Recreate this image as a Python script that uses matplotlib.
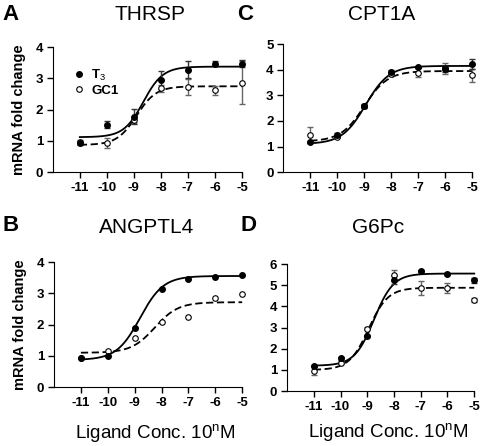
import numpy as np
import matplotlib
matplotlib.use('Agg')
import matplotlib.pyplot as plt

plt.rcParams['font.family'] = ['Liberation Sans', 'DejaVu Sans']
plt.rcParams['mathtext.fontset'] = 'custom'
plt.rcParams['mathtext.rm'] = 'Liberation Sans'
plt.rcParams['axes.unicode_minus'] = False

# log concentration (10^n M)
conc = [-11, -10, -9, -8, -7, -6, -5]

# THRSP
thrsp_t3 = [0.92, 1.52, 1.78, 2.95, 3.28, 3.48, 3.48]
thrsp_t3_err = [0.05, 0.12, 0.25, 0.3, 0.28, 0.08, 0.1]
thrsp_gc1 = [0.97, 0.93, 1.68, 2.68, 2.72, 2.62, 2.87]
thrsp_gc1_err = [0.05, 0.15, 0.1, 0.12, 0.25, 0.14, 0.7]
thrsp_fit_t3 = (1.12, 3.38, -8.65, 1.2)   # bottom, top, logEC50, hill
thrsp_fit_gc1 = (0.87, 2.75, -8.9, 1.2)

# CPT1A
cpt1a_t3 = [1.18, 1.45, 2.6, 3.9, 4.1, 4.02, 4.22]
cpt1a_t3_err = [0.05, 0.06, 0.08, 0.1, 0.05, 0.1, 0.2]
cpt1a_gc1 = [1.45, 1.38, 2.58, 3.82, 3.89, 4.05, 3.78]
cpt1a_gc1_err = [0.3, 0.05, 0.06, 0.08, 0.17, 0.2, 0.25]
cpt1a_fit_t3 = (1.1, 4.15, -8.95, 1.0)
cpt1a_fit_gc1 = (1.2, 3.95, -9.0, 1.0)

# ANGPTL4
angptl4_t3 = [0.92, 1.0, 1.9, 3.15, 3.45, 3.53, 3.58]
angptl4_gc1 = [0.92, 1.17, 1.58, 2.1, 2.25, 2.85, 2.97]
angptl4_fit_t3 = (0.87, 3.56, -8.8, 1.0)
angptl4_fit_gc1 = (1.1, 2.72, -8.25, 1.0)

# G6Pc
g6pc_t3 = [1.2, 1.55, 2.6, 5.24, 5.67, 5.53, 5.24]
g6pc_t3_err = [0.05, 0.08, 0.05, 0.2, 0.05, 0.05, 0.12]
g6pc_gc1 = [0.95, 1.35, 2.95, 5.48, 4.85, 4.87, 4.3]
g6pc_gc1_err = [0.2, 0.08, 0.08, 0.25, 0.33, 0.25, 0.1]
g6pc_fit_t3 = (1.2, 5.55, -8.75, 1.2)
g6pc_fit_gc1 = (1.0, 4.88, -8.95, 1.2)


def sigmoid(x, p):
    bottom, top, ec50, hill = p
    return bottom + (top - bottom) / (1 + 10 ** ((ec50 - x) * hill))


fig = plt.figure(figsize=(4.8, 4.46), dpi=100)

panels = [
    ('A', 'THRSP', [0.110, 0.614, 0.394, 0.280], 4, thrsp_t3, thrsp_t3_err, thrsp_gc1, thrsp_gc1_err, thrsp_fit_t3, thrsp_fit_gc1),
    ('C', 'CPT1A', [0.590, 0.614, 0.394, 0.287], 5, cpt1a_t3, cpt1a_t3_err, cpt1a_gc1, cpt1a_gc1_err, cpt1a_fit_t3, cpt1a_fit_gc1),
    ('B', 'ANGPTL4', [0.1125, 0.132, 0.392, 0.280], 4, angptl4_t3, None, angptl4_gc1, None, angptl4_fit_t3, angptl4_fit_gc1),
    ('D', 'G6Pc', [0.598, 0.123, 0.390, 0.285], 6, g6pc_t3, g6pc_t3_err, g6pc_gc1, g6pc_gc1_err, g6pc_fit_t3, g6pc_fit_gc1),
]

xs = np.linspace(-11, -5, 200)
for letter, name, rect, ymax, t3, t3e, gc, gce, ft3, fgc in panels:
    ax = fig.add_axes(rect)
    ax.plot(xs, sigmoid(xs, ft3), color='black', lw=1.3, zorder=2, clip_on=False)
    ax.plot(xs, sigmoid(xs, fgc), color='black', lw=1.3, ls=(0, (4, 2)), zorder=2, clip_on=False)
    if gce is not None:
        ax.errorbar(conc, gc, yerr=gce, fmt='none', ecolor='#666666', elinewidth=1,
                    capsize=2.5, capthick=1, zorder=3, clip_on=False)
    if t3e is not None:
        ax.errorbar(conc, t3, yerr=t3e, fmt='none', ecolor='#333333', elinewidth=1,
                    capsize=2.5, capthick=1, zorder=3, clip_on=False)
    ax.plot(conc, gc, 'o', ms=4, mfc='white', mec='black', mew=0.8, zorder=4, clip_on=False, label='GC1')
    ax.plot(conc, t3, 'o', ms=4, mfc='black', mec='black', zorder=5, clip_on=False, label='T$_3$')

    ax.set_xlim(-12, -5)
    ax.set_ylim(0, ymax)
    ax.set_xticks(conc, labels=[str(c) for c in conc], fontweight='bold', fontsize=9.5)
    ax.set_yticks(range(0, ymax + 1), labels=[str(v) for v in range(0, ymax + 1)],
                  fontweight='bold', fontsize=9.5)
    ax.spines['top'].set_visible(False)
    ax.spines['right'].set_visible(False)
    ax.tick_params(direction='out', length=4, width=1, pad=3)

    if letter in ('A', 'B'):
        ax.set_ylabel('mRNA fold change', fontsize=10.5, fontweight='bold', labelpad=7)
    if letter == 'A':
        h, l = ax.get_legend_handles_labels()
        leg = ax.legend(h[::-1], l[::-1], loc='upper left', bbox_to_anchor=(0.05, 0.93),
                        frameon=False, handlelength=0.8, handletextpad=0.5,
                        labelspacing=0.1, prop={'weight': 'bold', 'size': 9.5})

fig.text(0.005, 0.968, 'A', fontsize=16, fontweight='bold', va='center')
fig.text(0.312, 0.968, 'THRSP', fontsize=15, ha='center', va='center')
fig.text(0.495, 0.968, 'C', fontsize=16, fontweight='bold', va='center')
fig.text(0.796, 0.968, 'CPT1A', fontsize=15, ha='center', va='center')
fig.text(0.005, 0.495, 'B', fontsize=16, fontweight='bold', va='center')
fig.text(0.306, 0.489, 'ANGPTL4', fontsize=15, ha='center', va='center')
fig.text(0.500, 0.495, 'D', fontsize=16, fontweight='bold', va='center')
fig.text(0.788, 0.489, 'G6Pc', fontsize=15, ha='center', va='center')

fig.text(0.323, 0.027, 'Ligand Conc. 10$^{\\mathregular{n}}$M', fontsize=13.5, ha='center', va='center')
fig.text(0.808, 0.031, 'Ligand Conc. 10$^{\\mathregular{n}}$M', fontsize=13.5, ha='center', va='center')

fig.savefig('out.png', dpi=100)
